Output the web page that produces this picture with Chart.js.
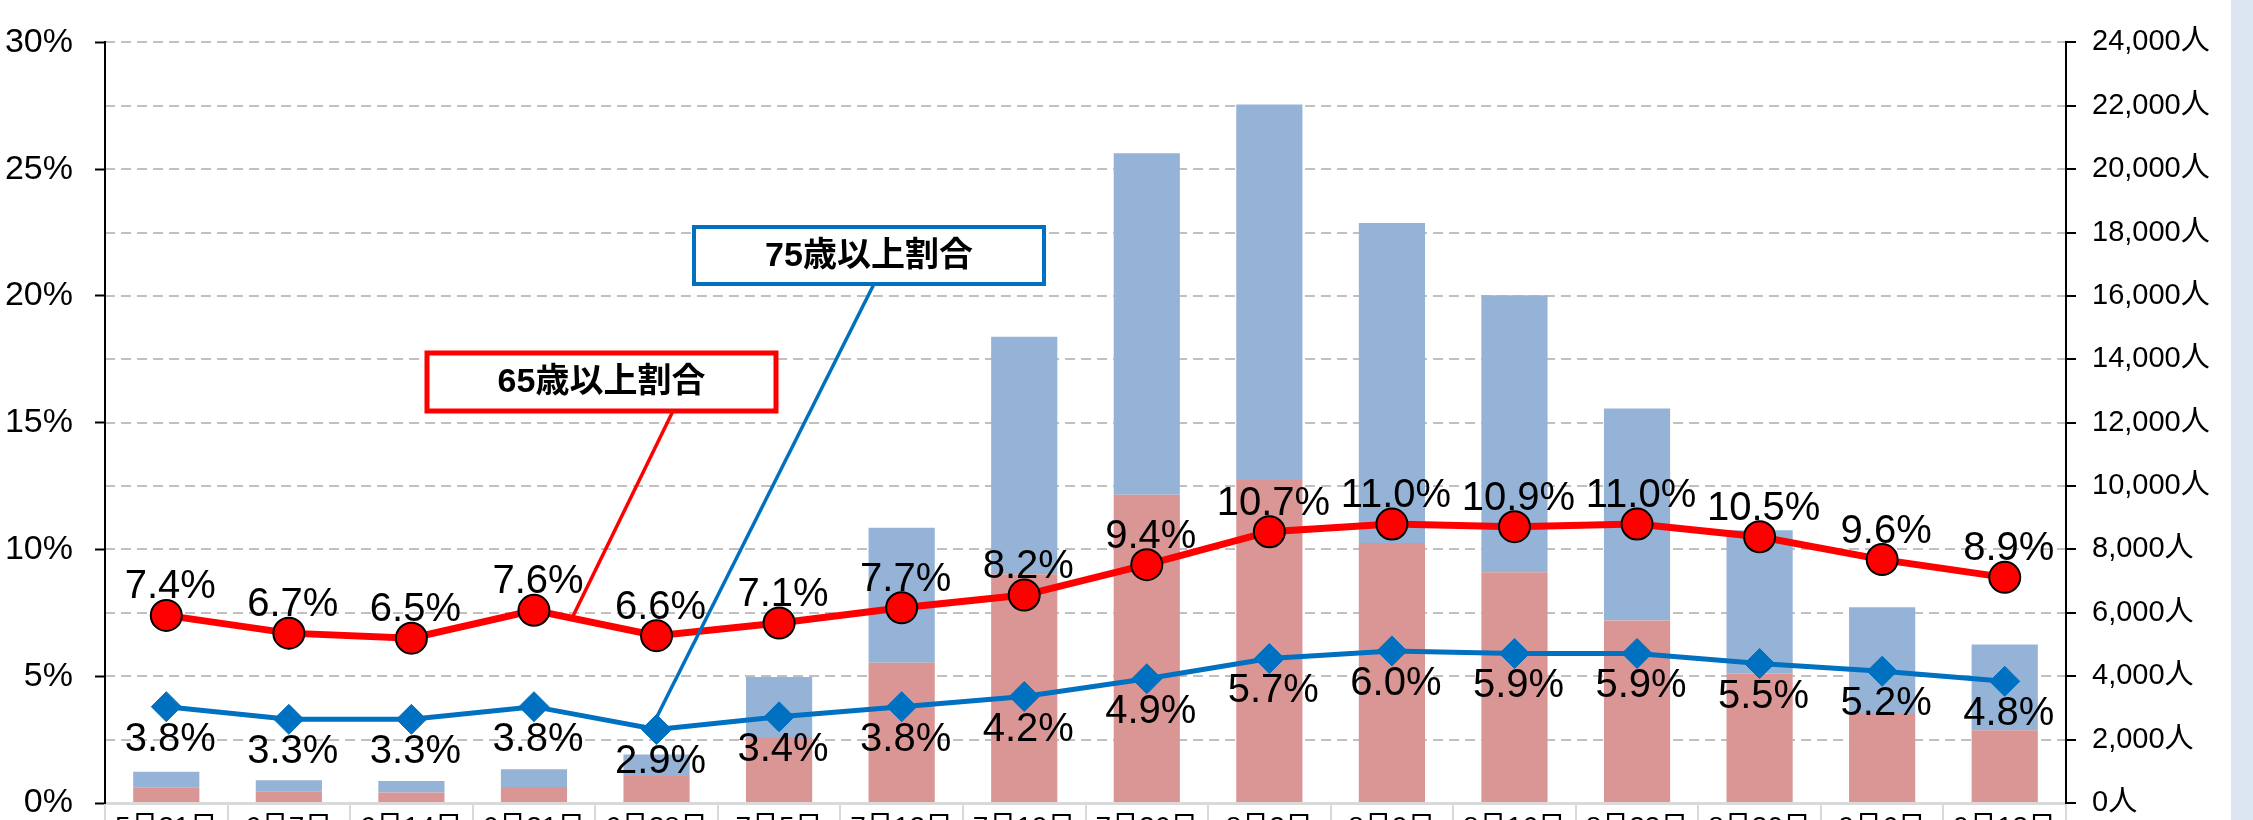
<!DOCTYPE html>
<html>
<head>
<meta charset="utf-8">
<script src="https://cdn.jsdelivr.net/npm/chart.js@4.4.0/dist/chart.umd.min.js"></script>
<style>
  html, body { margin: 0; padding: 0; background: #fff; overflow: hidden; }
  #wrap { position: relative; width: 2253px; height: 820px; overflow: hidden; }
  #side { position: absolute; left: 2231px; top: 0; width: 22px; height: 820px; background: #dce6f2; }
</style>
</head>
<body>
<div id="wrap">
  <canvas id="chart" width="2253" height="870"></canvas>
  <div id="side"></div>
</div>
<script>
// 週ごとのデータ
const weeks = ['5月31日', '6月7日', '6月14日', '6月21日', '6月28日', '7月5日', '7月12日', '7月19日',
               '7月26日', '8月2日', '8月9日', '8月16日', '8月23日', '8月30日', '9月6日', '9月13日'];
const barLower = [480, 355, 330, 505, 855, 2080, 4425, 7215, 9730, 10195, 8205, 7280, 5755, 4085, 2805, 2295];
const barUpper = [510, 360, 365, 560, 675, 1895, 4260, 7500, 10770, 11845, 10095, 8745, 6695, 4525, 3370, 2705];
const rate65 = [7.4, 6.7, 6.5, 7.6, 6.6, 7.1, 7.7, 8.2, 9.4, 10.7, 11.0, 10.9, 11.0, 10.5, 9.6, 8.9];
const rate75 = [3.8, 3.3, 3.3, 3.8, 2.9, 3.4, 3.8, 4.2, 4.9, 5.7, 6.0, 5.9, 5.9, 5.5, 5.2, 4.8];

const FONT = '"Liberation Sans", Arial, "Noto Sans CJK JP", sans-serif';

// 吹き出し（枠と引き出し線）
const callouts = [
    { text: '65歳以上割合', color: '#ff0000', box: [427, 353, 776, 411], border: 5, anchorX: 673, dataset: 2, at: 3.31, dy: 0 },
    { text: '75歳以上割合', color: '#0070c0', box: [694, 227, 1044, 284], border: 4, anchorX: 874, dataset: 3, at: 4, dy: -12 }
];

const valueLabels = {
    id: 'valueLabels',
    afterDatasetsDraw(chart) {
        const ctx = chart.ctx;
        ctx.save();

        callouts.forEach(c => {
            const pts = chart.getDatasetMeta(c.dataset).data;
            const i = Math.floor(c.at);
            const f = c.at - i;
            const p1 = pts[i];
            const p2 = pts[Math.min(i + 1, pts.length - 1)];
            const tx = p1.x + (p2.x - p1.x) * f;
            const ty = p1.y + (p2.y - p1.y) * f + c.dy;
            const [x1, y1, x2, y2] = c.box;
            ctx.strokeStyle = c.color;
            ctx.lineWidth = 3.5;
            ctx.beginPath();
            ctx.moveTo(c.anchorX, y2);
            ctx.lineTo(tx, ty);
            ctx.stroke();
            ctx.fillStyle = '#fff';
            ctx.fillRect(x1, y1, x2 - x1, y2 - y1);
            ctx.lineWidth = c.border;
            ctx.strokeRect(x1, y1, x2 - x1, y2 - y1);
            ctx.fillStyle = '#000';
            ctx.font = 'bold 34px ' + FONT;
            ctx.textAlign = 'center';
            ctx.textBaseline = 'middle';
            ctx.fillText(c.text, (x1 + x2) / 2, (y1 + y2) / 2 + 1);
        });

        ctx.fillStyle = '#000';
        ctx.font = '40px ' + FONT;
        ctx.textAlign = 'center';
        ctx.textBaseline = 'alphabetic';
        chart.getDatasetMeta(2).data.forEach((pt, i) => {
            ctx.fillText(rate65[i].toFixed(1) + '%', pt.x + 4, pt.y - 17);
        });
        chart.getDatasetMeta(3).data.forEach((pt, i) => {
            ctx.fillText(rate75[i].toFixed(1) + '%', pt.x + 4, pt.y + 44);
        });
        ctx.restore();
    }
};

new Chart(document.getElementById('chart'), {
    data: {
        labels: weeks,
        datasets: [
            { type: 'bar', data: barLower, backgroundColor: '#da9694', yAxisID: 'y1', stack: 'a', order: 2,
              categoryPercentage: 0.54, barPercentage: 1 },
            { type: 'bar', data: barUpper, backgroundColor: '#95b3d7', yAxisID: 'y1', stack: 'a', order: 2,
              categoryPercentage: 0.54, barPercentage: 1 },
            { type: 'line', data: rate65, yAxisID: 'y', borderColor: '#ff0000', borderWidth: 7, tension: 0,
              pointRadius: 15.5, pointBackgroundColor: '#ff0000', pointBorderColor: '#000', pointBorderWidth: 2, order: 0 },
            { type: 'line', data: rate75, yAxisID: 'y', borderColor: '#0070c0', borderWidth: 5, tension: 0,
              pointStyle: 'rectRot', pointRadius: 15, pointBackgroundColor: '#0070c0', pointBorderColor: '#0070c0',
              pointBorderWidth: 1, order: 1 }
        ]
    },
    options: {
        responsive: false,
        animation: false,
        devicePixelRatio: 1,
        layout: { padding: { top: 22, left: 0, right: 0, bottom: 0 } },
        plugins: { legend: { display: false }, tooltip: { enabled: false } },
        scales: {
            x: {
                stacked: true,
                offset: true,
                grid: { offset: true, drawOnChartArea: false, drawTicks: true, tickLength: 40, color: '#d9d9d9', lineWidth: 2 },
                border: { color: '#d9d9d9', width: 3 },
                ticks: { color: '#000', font: { size: 28, family: FONT }, padding: -32, maxRotation: 0, autoSkip: false },
                afterFit: s => { s.height = 67; }
            },
            y: {
                position: 'left',
                min: 0, max: 30,
                ticks: { stepSize: 5, color: '#000', padding: 22, font: { size: 34, family: FONT }, callback: v => v + '%' },
                grid: { drawOnChartArea: false, drawTicks: true, tickLength: 10, tickColor: '#000', tickWidth: 2 },
                border: { color: '#000', width: 2 },
                afterFit: s => { s.width = 105; }
            },
            y1: {
                position: 'right',
                stacked: true,
                min: 0, max: 24000,
                ticks: { stepSize: 2000, color: '#000', padding: 16, font: { size: 29, family: FONT },
                         callback: v => v.toLocaleString('en-US') + '人' },
                grid: { drawOnChartArea: true, color: '#c0c0c0', lineWidth: 2, drawTicks: true, tickLength: 10,
                        tickColor: '#000', tickWidth: 2, tickBorderDash: [] },
                border: { color: '#000', width: 2, dash: [10, 6] },
                afterFit: s => { s.width = 187; }
            }
        }
    },
    plugins: [valueLabels]
});
</script>
</body>
</html>
